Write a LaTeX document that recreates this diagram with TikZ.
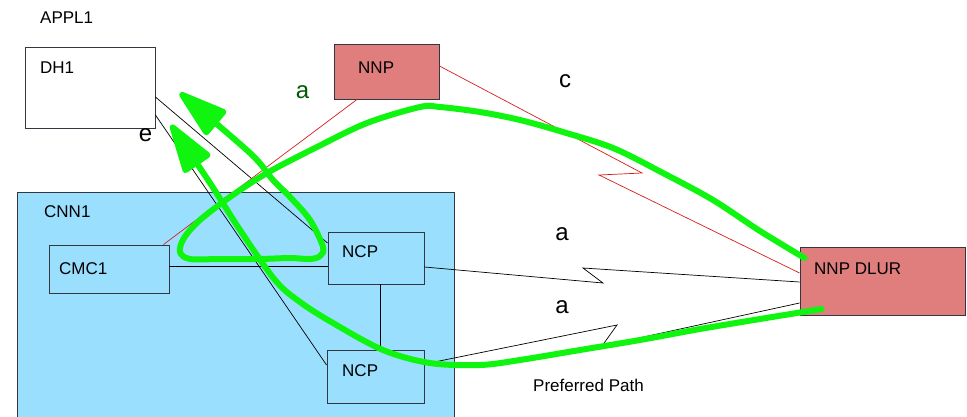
\documentclass[tikz,border=0pt]{standalone}
\usepackage{fontspec}
\setmainfont{Liberation Sans}
\usetikzlibrary{arrows.meta,calc}

\definecolor{nnpred}{RGB}{224,126,126}
\definecolor{cnnblue}{RGB}{155,223,255}
\definecolor{edge}{RGB}{50,55,65}
\definecolor{route}{RGB}{15,245,15}
\definecolor{linkred}{RGB}{215,30,30}
\definecolor{labelgreen}{RGB}{0,90,0}

\tikzset{
  box/.style={draw=edge, line width=0.9pt, inner sep=0pt, anchor=center},
  whitebox/.style={box, fill=white},
  nnpbox/.style={box, fill=nnpred},
  bluebox/.style={box, fill=cnnblue},
  txt/.style={font=\fontsize{17}{20}\selectfont, inner sep=0pt, anchor=base west},
  bigtxt/.style={font=\fontsize{24}{28}\selectfont, inner sep=0pt},
  link/.style={draw=black, line width=0.7pt},
  redlink/.style={draw=linkred, line width=0.7pt},
  routepath/.style={draw=route, line width=6pt, line cap=round, line join=round,
    -{Triangle[length=56pt,width=33pt,round]}},
}

\begin{document}
\begin{tikzpicture}[x=1pt,y=-1pt]
\clip (0,0) rectangle (967,416);
\fill[white] (0,0) rectangle (967,416);

% network boxes
\node[bluebox, minimum width=437pt, minimum height=230pt] (cnn) at (235.5,307) {};
\node[whitebox, minimum width=130pt, minimum height=81pt] (dh1) at (90,87.5) {};
\node[nnpbox, minimum width=105pt, minimum height=55pt] (nnp) at (386.5,71.5) {};
\node[bluebox, minimum width=120pt, minimum height=48pt] (cmc1) at (109,269) {};
\node[bluebox, minimum width=96pt, minimum height=52pt] (ncp1) at (376,258) {};
\node[bluebox, minimum width=97pt, minimum height=53pt] (ncp2) at (375.5,376.5) {};
\node[nnpbox, minimum width=165pt, minimum height=68pt] (dlur) at (882.5,281) {};

% bends of the zigzag links
\coordinate (zr1) at (642,173);
\coordinate (zr2) at (599,175);
\coordinate (zu1) at (603,283);
\coordinate (zu2) at (583,268);
\coordinate (zl1) at (617,325);
\coordinate (zl2) at (602,346);

% links
\draw[link] ([yshift=-9.5pt]dh1.east) -- ([yshift=15pt]ncp1.west);
\draw[link] ([yshift=-27.5pt]dh1.east) -- ([yshift=11.5pt]ncp2.west);
\draw[link] ([yshift=3pt]cmc1.east) -- ([yshift=3pt]cmc1.east -| ncp1.west);
\draw[link] ([xshift=4pt]ncp1.south) -- ([xshift=4pt]ncp1.south |- ncp2.north);
\draw[redlink] ([xshift=-29.5pt]nnp.south) -- ([xshift=-6pt]cmc1.north east);
\draw[redlink] ([yshift=5.5pt]nnp.east) -- (zr1) -- (zr2) -- ([yshift=8pt]dlur.west);
\draw[link] ([yshift=-9pt]ncp1.east) -- (zu1) -- (zu2) -- ([yshift=-1pt]dlur.west);
\draw[link] ([yshift=12.5pt]ncp2.east) -- (zl1) -- (zl2) -- ([yshift=-22pt]dlur.west);

% labels
\node[txt] (tappl) at (40,23) {APPL1};
\node[txt] (tdh1) at (40,73) {DH1};
\node[txt] (tnnp) at (358,73) {NNP};
\node[txt] (tcnn) at (44,217) {CNN1};
\node[txt] (tcmc) at (59,274) {CMC1};
\node[txt] (tncp1) at (342,257) {NCP};
\node[txt] (tncp2) at (342,376) {NCP};
\node[txt] (tdlur) at (814,274) {NNP DLUR};
\node[txt] (tpref) at (533,391) {Preferred Path};
\node[bigtxt, text=labelgreen] (la0) at (302.5,92) {a};
\node[bigtxt] (lc) at (565,81) {c};
\node[bigtxt] (le) at (145.5,135.5) {e};
\node[bigtxt] (la1) at (562,234) {a};
\node[bigtxt] (la2) at (562,307) {a};

% routes
\coordinate (r1s) at ([xshift=5pt,yshift=23pt]dlur.west);
\coordinate (r2s) at ([xshift=22pt,yshift=-28pt]dlur.west);
\draw[routepath] plot[smooth, tension=0.55] coordinates {
  (r1s) (760,231) (713,200) (663,173) (613,148) (563,132) (520,120) (480,112)
  (440,107) (420,107) (367,123) (317,147) (267,173) (230,197) (200,220)
  (184,238) (180,252) (190,259) (220,259) (260,259) (290,258) (310,259)
  (320,256) (323,247) (310,220) (290,197) (273,180) (250,153) (180,93)};
\draw[routepath] plot[smooth, tension=0.55] coordinates {
  (r2s) (760,319) (700,329) (640,340) (580,350) (520,360) (480,365)
  (430,363) (383,350) (333,323) (300,302) (275,280) (240,230) (210,183) (171,125)};
\end{tikzpicture}
\end{document}
